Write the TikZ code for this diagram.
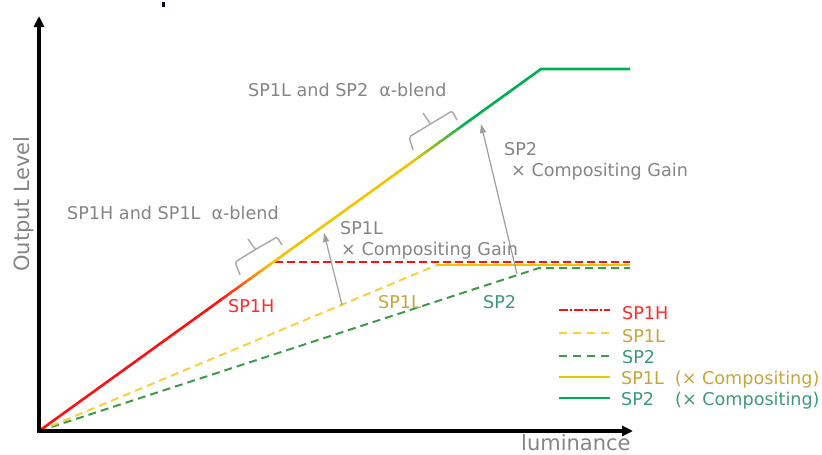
\documentclass[tikz,border=0pt]{standalone}
\usepackage{fontspec}
\setmainfont{DejaVu Sans}
\usetikzlibrary{arrows.meta,calc}

\definecolor{redline}{HTML}{FF1010}
\definecolor{yellowline}{HTML}{F2C400}
\definecolor{greenline}{HTML}{00B050}
\definecolor{yellowdash}{HTML}{F6D13C}
\definecolor{greendash}{HTML}{3E9A48}
\definecolor{labelgray}{HTML}{858585}
\definecolor{bracegray}{HTML}{AAAAAA}
\definecolor{redtext}{HTML}{FF2B2B}
\definecolor{ochretext}{HTML}{C8A43C}
\definecolor{tealtext}{HTML}{3C9A78}

\tikzset{
  txt/.style={inner sep=0pt, anchor=base west, font=\fontsize{17.6}{20}\selectfont},
  axislabel/.style={inner sep=0pt, anchor=base west, font=\fontsize{21}{24}\selectfont, text=labelgray},
  axisline/.style={line width=3.5pt, -{Triangle[length=11pt,width=10pt]}},
  curveseg/.style={line width=2.6pt},
  gainarrow/.style={draw=labelgray!80, line width=1.2pt, -{Triangle[length=9pt,width=6pt]}},
  bracket/.style={draw=bracegray, line width=1.5pt, rounded corners=2pt},
  dashA/.style={line width=2pt, dash pattern=on 8pt off 4pt},
  dashB/.style={line width=2pt, dash pattern=on 8pt off 5pt},
  legline/.style={line width=2.4pt},
}

\begin{document}
\begin{tikzpicture}[x=1pt,y=-1pt]
\useasboundingbox (0,0) rectangle (822,455);

% small mark at the top edge
\fill[black!85!blue] (162,2) rectangle (164.5,7);

% key points of the curves
\coordinate (O)  at (39,431);
\coordinate (R1) at (222,299);   % end of pure SP1H
\coordinate (Y0) at (272,263);   % start of pure SP1L x gain
\coordinate (Y1) at (410,163.5); % end of pure SP1L x gain
\coordinate (G0) at (465,123.8); % start of pure SP2 x gain
\coordinate (K)  at (541,69);    % knee of SP2 x gain
\coordinate (E)  at (630,69);

% saturation levels
\coordinate (Hs) at (275,262);
\coordinate (He) at (630,262);
\coordinate (Ls) at (437,265);
\coordinate (Le) at (630,265);
\coordinate (Gs) at (539,268);
\coordinate (Ge) at (630,268);

% raw SP2 and SP1L (dashed)
\draw[greendash, dashB] (O) -- (Gs) -- (Ge);
\draw[yellowdash, dashB] (O) -- (Ls);
\draw[yellowline, line width=2.4pt] (Ls) -- (Le);
% SP1H saturation (dashed)
\draw[redline, dashA] (Hs) -- (He);

% composite curve with its two blend zones
\draw[redline, curveseg] (O) -- (R1);
\foreach \i in {0,...,19}{
  \pgfmathsetmacro{\p}{100-5*\i-2.5}
  \draw[curveseg, color=redline!\p!yellowline]
    ($(R1)!\i/20!(Y0)$) -- ($(R1)!\i/20+0.05!(Y0)$);
}
\draw[yellowline, curveseg] (Y0) -- (Y1);
\foreach \i in {0,...,19}{
  \pgfmathsetmacro{\p}{100-5*\i-2.5}
  \draw[curveseg, color=yellowline!\p!greenline]
    ($(Y1)!\i/20!(G0)$) -- ($(Y1)!\i/20+0.05!(G0)$);
}
\draw[greenline, curveseg] (G0) -- (K) -- (E);

% axes
\coordinate (xa0) at (37,431);
\coordinate (xa1) at (633,431);
\coordinate (ya0) at (39,433);
\coordinate (ya1) at (39,16);
\draw[axisline] (xa0) -- (xa1);
\draw[axisline] (ya0) -- (ya1);
\node[axislabel] (lum) at (521,450) {luminance};
\node[axislabel, rotate=90] (out) at (29.5,272) {Output Level};

% brackets over the blend zones
\draw[bracket] (240,275) -- (235,262) -- (255.5,249.5) -- (277,237) -- (282,245);
\draw[bracket] (255.5,249.5) -- (248,239);
\draw[bracket] (413,150) -- (409,137) -- (430.5,124) -- (452,111) -- (457,120);
\draw[bracket] (430.5,124) -- (423,113);

% gain arrows
\coordinate (a1s) at (342,305);
\coordinate (a1e) at (324,233);
\coordinate (a2s) at (517,274);
\coordinate (a2e) at (481,124);
\draw[gainarrow] (a1s) -- (a1e);
\draw[gainarrow] (a2s) -- (a2e);

% annotations
\node[txt, text=labelgray] (bl2) at (248,96) {SP1L and SP2\hspace{11pt}α-blend};
\node[txt, text=labelgray] (bl1) at (67,219) {SP1H and SP1L\hspace{11pt}α-blend};
\node[txt, text=labelgray] (g1a) at (340,234) {SP1L};
\node[txt, text=labelgray] (g1b) at (341,255) {× Compositing Gain};
\node[txt, text=labelgray] (g2a) at (504,155) {SP2};
\node[txt, text=labelgray] (g2b) at (511,176) {× Compositing Gain};
\node[txt, text=redtext] (c1) at (228,312) {SP1H};
\node[txt, text=ochretext] (c2) at (378,308) {SP1L};
\node[txt, text=tealtext] (c3) at (483,308) {SP2};

% legend
\coordinate (l1a) at (559,310); \coordinate (l1b) at (610,310);
\coordinate (l2a) at (559,333); \coordinate (l2b) at (610,333);
\coordinate (l3a) at (559,356); \coordinate (l3b) at (610,356);
\coordinate (l4a) at (559,377); \coordinate (l4b) at (610,377);
\coordinate (l5a) at (559,398); \coordinate (l5b) at (610,398);
\draw[redline, legline, dash pattern=on 9pt off 2pt on 2pt off 2pt] (l1a) -- (l1b);
\draw[yellowdash, legline, dash pattern=on 8pt off 6pt] (l2a) -- (l2b);
\draw[greendash, legline, dash pattern=on 8pt off 6pt] (l3a) -- (l3b);
\draw[yellowline, legline] (l4a) -- (l4b);
\draw[greenline, legline] (l5a) -- (l5b);
\node[txt, text=redtext] (k1) at (622,319) {SP1H};
\node[txt, text=ochretext] (k2) at (622,342) {SP1L};
\node[txt, text=tealtext] (k3) at (622,363) {SP2};
\node[txt, text=ochretext] (k4) at (621,384) {SP1L\hspace{11pt}(× Compositing)};
\node[txt, text=tealtext] (k5) at (621,405) {SP2\hspace{21pt}(× Compositing)};
\end{tikzpicture}
\end{document}
